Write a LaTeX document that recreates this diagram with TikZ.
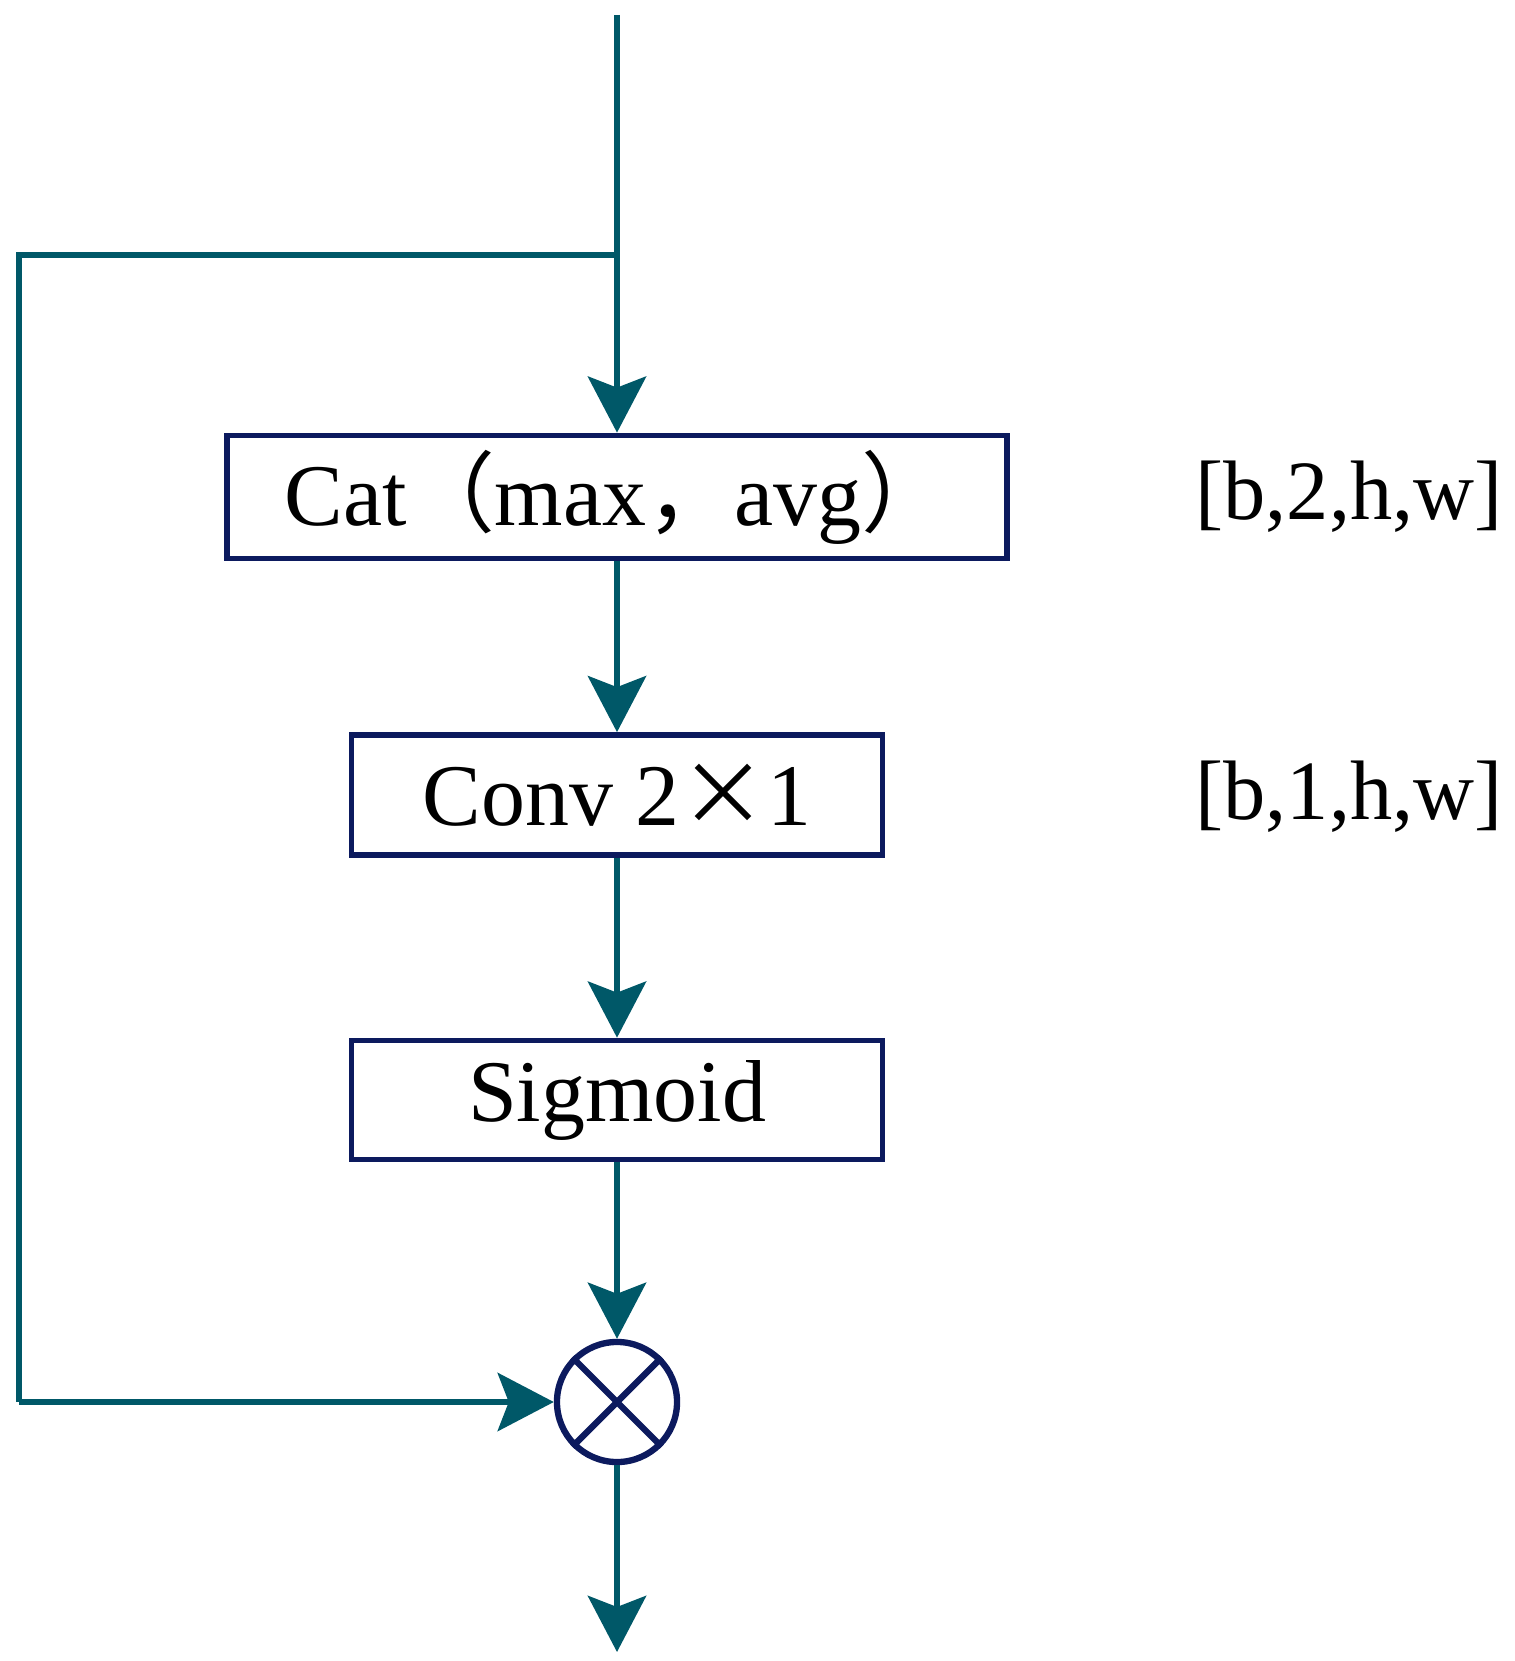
\documentclass[tikz,border=0pt]{standalone}
\usepackage{fontspec}
\setmainfont{Liberation Serif}
\newfontfamily\cjk{Noto Sans CJK SC}
\usetikzlibrary{arrows.meta,shapes.geometric}
\definecolor{teal1}{HTML}{005868}
\definecolor{navy1}{HTML}{0C1A5E}
\begin{document}
\begin{tikzpicture}[x=0.01cm,y=-0.01cm,
  conn/.style={draw=teal1,line width=1.9pt},
  arr/.style={conn,-{Stealth[length=5.6mm,width=5.8mm,inset=1.1mm]}},
  box/.style={draw=navy1,line width=1.6pt,fill=white,inner sep=0pt,font=\fontsize{25}{28}\selectfont},
  lab/.style={font=\fontsize{24}{28}\selectfont}]
\useasboundingbox (0,0) rectangle (1514,1661);
\node[box,minimum width=7.8cm,minimum height=1.23cm] (cat) at (617,497) {Cat{\cjk （}max{\cjk ，}avg{\cjk ）}};
\node[box,minimum width=5.31cm,minimum height=1.2cm] (conv) at (617,795) {Conv 2{\cjk ×}1};
\node[box,minimum width=5.31cm,minimum height=1.19cm] (sig) at (617,1100) {Sigmoid};
\node[circle,draw=navy1,line width=1.8pt,minimum size=1.2cm,inner sep=0pt] (mul) at (617,1402) {};
\draw[navy1,line width=1.8pt] (mul.north west) -- (mul.south east) (mul.north east) -- (mul.south west);
\node[lab] (l1) at (1349,497) {[b,2,h,w]};
\node[lab] (l2) at (1349,797) {[b,1,h,w]};
\coordinate (top) at (617,15);
\coordinate (br) at (617,255);
\coordinate (lt) at (19,255);
\coordinate (lb) at (19,1402);
\coordinate (out) at (617,1652);
\draw[arr] (top) -- (cat.north);
\draw[conn] (br) -- (lt) -- (lb);
\draw[arr] (lb) -- (mul.west);
\draw[arr] (cat) -- (conv);
\draw[arr] (conv) -- (sig);
\draw[arr] (sig) -- (mul);
\draw[arr] (mul) -- (out);
\end{tikzpicture}
\end{document}
